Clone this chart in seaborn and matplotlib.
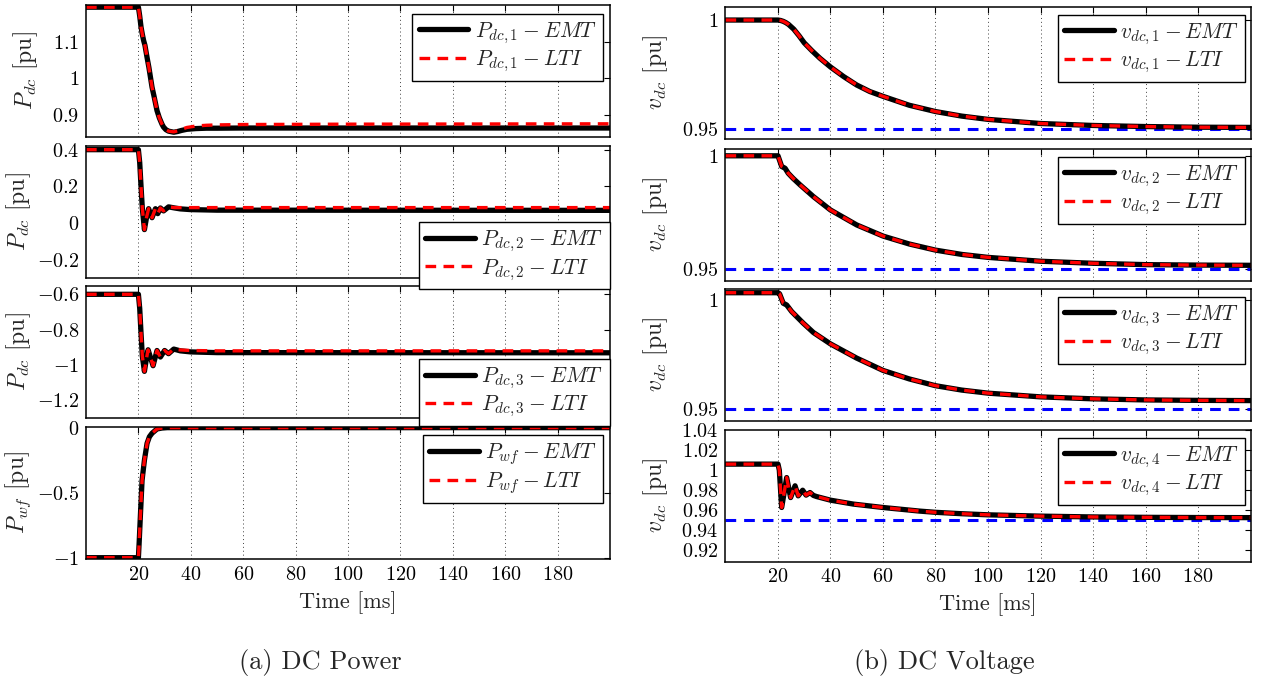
import matplotlib
matplotlib.use("Agg")
import matplotlib.pyplot as plt
import matplotlib.ticker as mticker
import seaborn as sns

# ---- data (time in ms, values in pu) ----
t_p1 = [0, 20, 20.5, 21, 21.5, 22, 22.5, 23.3, 24, 25.2, 26, 27.1, 28, 29, 29.6, 30.5,
        31.5, 33.5, 35, 36.5, 38.5, 42, 46, 50, 60, 100, 200]
p1_emt = [1.194, 1.194, 1.17, 1.14, 1.12, 1.103, 1.09, 1.057, 1.03, 0.976, 0.95, 0.912, 0.892,
          0.875, 0.867, 0.86, 0.856, 0.853, 0.855, 0.858, 0.861, 0.863, 0.864, 0.864, 0.8645,
          0.8645, 0.8645]
p1_lti = [1.194, 1.194, 1.17, 1.14, 1.12, 1.103, 1.09, 1.057, 1.03, 0.976, 0.95, 0.912, 0.892,
          0.875, 0.867, 0.86, 0.856, 0.854, 0.857, 0.861, 0.866, 0.87, 0.872, 0.873, 0.874,
          0.875, 0.876]

t_p2 = [0, 20, 20.5, 21, 21.5, 22.3, 23.1, 23.9, 25.2, 26.5, 27.4, 28.4, 29.6, 31.5, 33.8,
        36, 40, 50, 200]
p2_emt = [0.4, 0.4, 0.33, 0.2, 0.08, -0.036, 0.03, 0.078, 0.029, 0.078, 0.051, 0.082, 0.066,
          0.088, 0.082, 0.077, 0.073, 0.07, 0.069]
p2_lti = [0.4, 0.4, 0.33, 0.2, 0.08, -0.036, 0.03, 0.078, 0.029, 0.078, 0.051, 0.082, 0.066,
          0.088, 0.084, 0.084, 0.084, 0.084, 0.084]

t_p3 = [0, 20, 20.5, 21, 21.5, 22.3, 23.0, 23.7, 25.6, 27.1, 28.4, 30, 31.5, 33.5, 36, 40,
        50, 200]
p3_emt = [-0.6, -0.6, -0.68, -0.82, -0.95, -1.036, -0.97, -0.914, -1.004, -0.918, -0.955,
          -0.918, -0.936, -0.91, -0.92, -0.926, -0.93, -0.931]
p3_lti = [-0.6, -0.6, -0.68, -0.82, -0.95, -1.036, -0.97, -0.914, -1.004, -0.918, -0.955,
          -0.918, -0.936, -0.91, -0.915, -0.918, -0.92, -0.92]

t_pwf = [0, 20, 20.3, 20.8, 21.4, 22.3, 23.3, 24.2, 25.2, 27.1, 29, 31, 200]
pwf_emt = [-1, -1, -0.88, -0.66, -0.405, -0.25, -0.121, -0.07, -0.043, -0.01, -0.003, 0, 0]
pwf_lti = [-1, -1, -0.88, -0.66, -0.405, -0.25, -0.121, -0.07, -0.043, -0.01, -0.003, 0, 0]

t_v1 = [0, 20, 21, 22, 23, 24, 26, 28, 30, 33, 36, 40, 45, 50, 55, 60, 70, 80, 90, 100,
        120, 140, 160, 180, 200]
v1_emt = [1.0, 1.0, 0.9998, 0.9994, 0.9988, 0.998, 0.9958, 0.9928, 0.9895, 0.9858, 0.9824,
          0.9784, 0.974, 0.9701, 0.9671, 0.9649, 0.9608, 0.9579, 0.9558, 0.9543, 0.9524,
          0.9515, 0.951, 0.9507, 0.9506]
v1_lti = v1_emt

t_v2 = [0, 20, 21.4, 22.7, 23.9, 25.8, 28.4, 33.5, 40, 50, 60, 70, 80, 90, 100, 120, 140,
        160, 180, 200]
v2_emt = [1.0, 1.0, 0.9953, 0.9945, 0.9923, 0.99, 0.9872, 0.982, 0.9761, 0.9695, 0.9646,
          0.9611, 0.9584, 0.9565, 0.9552, 0.9535, 0.9526, 0.952, 0.9518, 0.9517]
v2_lti = v2_emt

t_v3 = [0, 20, 20.6, 22, 23.3, 25.2, 27.1, 29.6, 33.5, 40, 50, 60, 70, 80, 90, 100, 120,
        140, 160, 180, 200]
v3_emt = [1.0033, 1.0033, 1.0028, 0.9985, 0.9977, 0.9947, 0.9924, 0.9894, 0.9851, 0.9799,
          0.9734, 0.9678, 0.9639, 0.9608, 0.9588, 0.9574, 0.9557, 0.9548, 0.9543, 0.9541,
          0.954]
v3_lti = v3_emt

t_v4 = [0, 20, 20.5, 21.4, 23.3, 24.8, 26.5, 27.7, 29.4, 30.7, 32.2, 33.5, 34.7, 40, 48.7,
        60, 74, 80, 90, 100, 120, 140, 160, 180, 200]
v4_emt = [1.006, 1.006, 1.0, 0.9628, 0.9926, 0.9727, 0.9844, 0.9744, 0.98, 0.9751, 0.9777,
          0.9748, 0.9737, 0.9701, 0.9662, 0.9628, 0.9592, 0.958, 0.9566, 0.9555, 0.9542,
          0.9534, 0.953, 0.9528, 0.9527]
v4_lti = v4_emt

VDC_MIN = 0.95
x_ticks = [20, 40, 60, 80, 100, 120, 140, 160, 180]

power_panels = [
    (t_p1, p1_emt, p1_lti, "dc,1", "P_{dc}", (0.84, 1.2), [0.9, 1.0, 1.1]),
    (t_p2, p2_emt, p2_lti, "dc,2", "P_{dc}", (-0.3, 0.42), [-0.2, 0, 0.2, 0.4]),
    (t_p3, p3_emt, p3_lti, "dc,3", "P_{dc}", (-1.3, -0.553), [-1.2, -1, -0.8, -0.6]),
    (t_pwf, pwf_emt, pwf_lti, "wf", "P_{wf}", (-1.01, 0.005), [-1, -0.5, 0]),
]
voltage_panels = [
    (t_v1, v1_emt, v1_lti, "dc,1", "v_{dc}", (0.9455, 1.006), [0.95, 1]),
    (t_v2, v2_emt, v2_lti, "dc,2", "v_{dc}", (0.945, 1.003), [0.95, 1]),
    (t_v3, v3_emt, v3_lti, "dc,3", "v_{dc}", (0.9449, 1.005), [0.95, 1]),
    (t_v4, v4_emt, v4_lti, "dc,4", "v_{dc}", (0.909, 1.04),
     [0.92, 0.94, 0.96, 0.98, 1.0, 1.02, 1.04]),
]

sns.set_style("white")
plt.rcParams["font.family"] = ["cmr10", "DejaVu Serif"]
plt.rcParams["mathtext.fontset"] = "cm"
plt.rcParams["axes.formatter.use_mathtext"] = True
plt.rcParams["axes.unicode_minus"] = True

W, H = 1261, 680
fig = plt.figure(figsize=(W / 100, H / 100), dpi=100)

fmt = mticker.FuncFormatter(lambda v, p: f"${round(v, 4):g}$")


def style_axis(ax, ylim, yticks, bottom):
    ax.set_xlim(0, 200)
    ax.set_ylim(*ylim)
    ax.set_xticks(x_ticks)
    ax.set_yticks(yticks)
    ax.yaxis.set_major_formatter(fmt)
    ax.xaxis.set_major_formatter(fmt)
    ax.grid(axis="x", linestyle=(0, (1, 3)), color="0.25", linewidth=0.7)
    ax.grid(axis="y", visible=False)
    ax.tick_params(direction="in", top=True, right=True, length=4, width=0.8,
                   labelsize=14.5, colors="black", pad=5)
    for s in ax.spines.values():
        s.set_color("black")
        s.set_linewidth(1.1)
    if bottom:
        ax.set_xlabel("Time [ms]", fontsize=16, labelpad=5)
    else:
        ax.tick_params(labelbottom=False)
        ax.set_xlabel("")


def draw(ax, t, emt, lti, sub):
    sns.lineplot(x=t, y=emt, ax=ax, color="black", linewidth=3.8,
                 label=f"${sub}-EMT$", sort=False)
    sns.lineplot(x=t, y=lti, ax=ax, color="red", linewidth=2.4,
                 linestyle=(0, (3.2, 2.2)), label=f"${sub}-LTI$", sort=False)


left_tops = [5, 146, 286, 427]
right_tops = [7, 149, 289, 430]
left_label_x = [-0.088, -0.101, -0.101, -0.101]
legend_anchor_left = [
    ("upper right", (0.987, 0.932)),
    ("lower right", (1.0, -0.085)),
    ("lower right", (1.0, -0.06)),
    ("upper right", (0.987, 0.94)),
]
leg_kw = dict(borderaxespad=0, fontsize=15.5, frameon=True, fancybox=False,
              framealpha=1, edgecolor="black", handlelength=2.3, handletextpad=0.3,
              borderpad=0.3, labelspacing=0.15)

for i, (t, emt, lti, sub, ylab, ylim, yticks) in enumerate(power_panels):
    top = left_tops[i]
    ax = fig.add_axes([86 / W, 1 - (top + 132) / H, 524 / W, 132 / H])
    name = "P_{" + sub + "}"
    draw(ax, t, emt, lti, name)
    style_axis(ax, ylim, yticks, i == 3)
    ax.set_ylabel(f"${ylab}$ [pu]", fontsize=17)
    ax.yaxis.set_label_coords(left_label_x[i], 0.5)
    loc, anchor = legend_anchor_left[i]
    leg = ax.legend(loc=loc, bbox_to_anchor=anchor, **leg_kw)
    leg.get_frame().set_linewidth(1.0)
    leg.set_zorder(10)
    ax.set_zorder(5 - i)

for i, (t, emt, lti, sub, ylab, ylim, yticks) in enumerate(voltage_panels):
    top = right_tops[i]
    ax = fig.add_axes([725.5 / W, 1 - (top + 131.5) / H, 525 / W, 131.5 / H])
    ax.axhline(VDC_MIN, color="blue", linewidth=2.2, linestyle=(0, (3.5, 2.6)), zorder=1)
    name = "v_{" + sub + "}"
    draw(ax, t, emt, lti, name)
    style_axis(ax, ylim, yticks, i == 3)
    ax.set_ylabel(f"${ylab}$ [pu]", fontsize=17)
    ax.yaxis.set_label_coords(-0.106, 0.5)
    leg = ax.legend(loc="upper right", bbox_to_anchor=(0.99, 0.94), **leg_kw)
    leg.get_frame().set_linewidth(1.0)

fig.text(320 / W, 1 - 662 / H, "(a) DC Power", ha="center", va="center", fontsize=19)
fig.text(944 / W, 1 - 662 / H, "(b) DC Voltage", ha="center", va="center", fontsize=19)

fig.savefig("out.png", dpi=100)
